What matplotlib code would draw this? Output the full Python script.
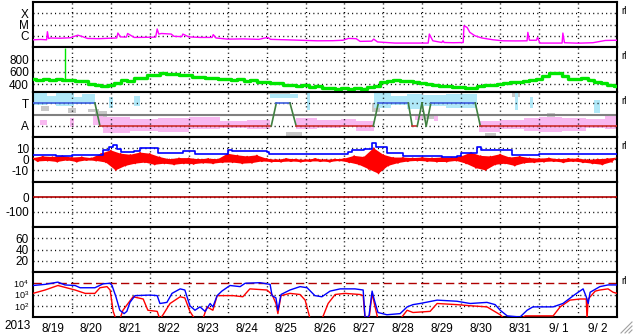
import numpy as np
import matplotlib
matplotlib.use('Agg')
import matplotlib.pyplot as plt
from matplotlib.ticker import NullLocator
from matplotlib.lines import Line2D

plt.rcParams['font.family'] = ['Liberation Sans', 'DejaVu Sans']
plt.rcParams['font.size'] = 8.5
plt.rcParams['mathtext.fontset'] = 'custom'
plt.rcParams['mathtext.rm'] = 'Liberation Sans'
plt.rcParams['lines.scale_dashes'] = False

# ---- data (time in days from 2013-08-19 00:00) ----
day_labels = ['8/19', '8/20', '8/21', '8/22', '8/23', '8/24', '8/25', '8/26',
              '8/27', '8/28', '8/29', '8/30', '8/31', '9/ 1', '9/ 2']

# x-ray flux, log10 W/m2
xray = np.array([
    [0.00, -6.36], [0.20, -6.33], [0.35, -6.36], [0.37, -5.64], [0.40, -6.25],
    [0.45, -6.20], [0.70, -6.22], [0.95, -6.18], [1.15, -5.95], [1.25, -6.05],
    [1.40, -6.24], [1.70, -6.26], [1.98, -6.22], [2.15, -6.20], [2.18, -5.76],
    [2.25, -6.10], [2.40, -6.12], [2.43, -5.80], [2.60, -6.15], [2.90, -6.14],
    [3.15, -6.12], [3.19, -5.40], [3.23, -5.85], [3.30, -5.80], [3.55, -5.85],
    [3.62, -6.05], [3.82, -6.08], [3.85, -5.85], [4.00, -6.10], [4.30, -6.15],
    [4.60, -6.15], [4.63, -5.90], [4.70, -6.20], [5.00, -6.30], [5.40, -6.28],
    [5.80, -6.32], [6.03, -6.15], [6.10, -6.32], [6.50, -6.36], [6.86, -6.40],
    [7.30, -6.45], [7.70, -6.44], [7.96, -6.40], [8.10, -6.24], [8.30, -6.26],
    [8.40, -6.50], [8.70, -6.48], [8.75, -6.30], [8.85, -6.55], [9.30, -6.65],
    [9.80, -6.65], [10.15, -6.65], [10.18, -5.85], [10.27, -6.45], [10.50, -6.60],
    [10.53, -6.45], [10.56, -6.60], [10.80, -6.62], [11.05, -6.60], [11.07, -5.11],
    [11.15, -5.26], [11.22, -5.70], [11.35, -6.00], [11.53, -6.20], [11.82, -6.36],
    [12.07, -6.45], [12.40, -6.46], [12.69, -6.45], [12.71, -5.70], [12.75, -6.40],
    [12.93, -6.40], [12.96, -6.15], [13.02, -6.65], [13.30, -6.65], [13.59, -6.65],
    [13.61, -5.76], [13.65, -6.62], [14.00, -6.66], [14.38, -6.62], [14.70, -6.42],
    [15.00, -6.40]])

# solar wind speed, every 4 hours
speed = [490, 474, 494, 478, 488, 466, 470, 452, 456, 408, 394, 376, 394, 428,
         466, 462, 498, 508, 552, 550, 578, 566, 572, 546, 546, 520, 516, 496,
         502, 482, 494, 472, 482, 462, 466, 442, 446, 418, 416, 392, 398, 378,
         384, 362, 368, 346, 350, 332, 340, 324, 336, 326, 352, 378, 432, 462,
         478, 456, 452, 432, 426, 402, 394, 380, 372, 360, 356, 346, 350, 368,
         392, 398, 412, 420, 432, 438, 452, 464, 482, 544, 586, 582, 534, 492,
         488, 498, 468, 442, 418, 392, 368]
speed_spike = (0.82, 990)

# IMF angle clouds: t0, t1, lo, hi (T=1, A=-1)
phi_blue = np.array([
    [0.00, 0.35, 0.80, 1.90], [0.35, 0.60, 0.90, 1.60], [0.60, 1.05, 0.75, 1.85],
    [1.05, 1.25, 0.95, 1.50], [1.25, 1.60, 0.90, 1.75], [1.95, 2.05, 0.60, 1.50],
    [2.60, 2.75, 0.70, 1.60], [6.10, 6.80, 1.40, 1.78], [7.05, 7.12, 0.40, 1.85],
    [8.75, 9.20, 0.60, 1.85], [9.20, 9.60, 0.80, 1.60], [9.60, 10.00, 0.50, 1.80],
    [10.00, 10.60, 0.70, 1.70], [10.60, 11.40, 0.60, 1.80], [12.38, 12.45, 0.40, 1.85],
    [12.77, 12.84, 0.60, 1.50], [14.40, 14.56, 0.15, 1.25]])
phi_pink = np.array([
    [0.18, 0.35, -0.90, -0.45], [0.95, 1.05, -1.10, -0.30], [1.55, 1.80, -0.90, -0.05],
    [1.80, 2.50, -1.60, -0.20], [2.50, 3.20, -1.40, -0.40], [3.20, 4.00, -1.50, -0.30],
    [4.00, 4.80, -1.30, -0.20], [4.80, 5.50, -1.20, -0.60], [5.50, 6.10, -1.30, -0.50],
    [6.75, 7.30, -1.30, -0.30], [7.30, 7.90, -1.20, -0.50], [7.90, 8.30, -1.10, -0.40],
    [8.30, 8.75, -1.40, -0.60], [9.80, 10.00, -0.50, -0.10], [10.30, 10.40, -0.60, -0.10],
    [11.45, 12.00, -1.50, -0.60], [12.00, 12.60, -1.30, -0.50], [12.60, 13.00, -1.40, -0.30],
    [13.00, 13.60, -1.50, -0.20], [13.60, 14.20, -1.40, -0.30], [14.20, 14.70, -1.20, -0.40],
    [14.70, 15.00, -1.30, -0.10]])
phi_gray = np.array([
    [0.00, 0.35, 1.75, 1.96], [0.20, 0.40, 0.30, 0.70], [0.90, 1.10, 0.10, 0.60],
    [1.40, 1.70, 0.20, 0.50], [1.60, 1.90, -0.60, 0.30], [6.00, 6.60, 1.75, 1.96],
    [6.50, 6.90, -1.96, -1.50], [8.70, 8.90, 0.20, 1.00], [10.00, 10.30, -0.40, 0.00],
    [11.60, 11.90, -1.96, -1.60], [12.30, 12.50, 1.50, 1.90], [13.20, 13.40, -0.30, 0.10]])

# sector polarity (1 toward, -1 away)
sector_t = [0, 1.59, 1.72, 6.12, 6.25, 6.60, 6.76, 8.74, 8.87, 9.64, 9.74, 9.87,
            9.99, 10.10, 10.22, 11.36, 11.49, 15]
sector_v = [1, 1, -1, -1, 1, 1, -1, -1, 1, 1, -1, -1, 1, -1, 1, 1, -1, -1]

# IMF Bt (nT)
bt = np.array([
    [0.00, 3.5], [0.60, 3.2], [1.00, 3.8], [1.72, 4.0], [1.80, 8.0], [1.95, 11.0],
    [2.06, 12.5], [2.15, 9.0], [2.25, 6.5], [2.60, 7.0], [2.75, 10.0], [3.10, 10.0],
    [3.20, 5.5], [3.80, 5.5], [3.85, 7.0], [4.10, 7.0], [4.15, 4.5], [4.95, 4.5],
    [5.00, 8.0], [5.10, 7.0], [6.00, 6.8], [6.05, 4.5], [7.60, 4.5], [7.70, 5.0],
    [8.10, 6.5], [8.20, 8.5], [8.50, 9.5], [8.70, 15.0], [8.80, 11.0], [9.00, 11.0],
    [9.10, 5.5], [9.45, 5.5], [9.50, 3.0], [10.20, 3.0], [10.50, 2.0], [10.90, 2.5],
    [11.00, 5.5], [11.20, 6.0], [11.40, 11.0], [11.50, 8.0], [12.20, 8.0], [12.30, 3.6],
    [12.90, 3.6], [13.00, 4.5], [14.00, 4.5], [15.00, 4.8]])

# IMF Bz (nT): upper values every 6 hours, lower values in between
bz_hi = [1, 2.5, 2, 3, 1.5, 2, 1, 5, 8, 5, 4, 6, 5, 2, 0, 1,
         1, 0, 0.5, 0, 5, 3.5, 2.5, 3.5, 0.5, -0.5, 0.5, 0, -0.5, 0.5, -0.5, 0,
         0.5, 3, 2, 10, 4, 1.5, 1.5, 1, 1.5, 1, 1.5, 1.5, 2.5, 6, 3, 2.5,
         4.5, 1.5, 2.5, 1, 0.5, 1, 0, 0.5, 0.5, -0.5, 0, 0.5, 1.5]
bz_lo = [-2, -1.5, -2.5, -1, -2.5, -1, -1.5, -3, -10, -6, -4, -3, -5, -4, -5, -4,
         -4.5, -3.5, -4, -3, -3, -4, -3.5, -2, -2.5, -2.5, -2, -2.5, -2, -2, -2.5, -1.5,
         -3, -5, -9, -13, -6, -3.5, -2, -1.5, -2, -2.5, -2.5, -1.5, -4, -8, -10, -5,
         -4, -6, -3.5, -3, -2.5, -2, -3, -2, -3, -4, -5, -2.5]

# electron flux, log10
e_blue = np.array([
    [0.00, 3.8], [0.31, 3.9], [0.64, 4.1], [0.82, 3.85], [1.08, 3.8], [1.21, 3.6],
    [1.59, 3.6], [1.80, 3.95], [1.98, 4.0], [2.03, 3.8], [2.13, 2.8], [2.23, 1.6],
    [2.34, 1.3], [2.41, 1.5], [2.49, 2.3], [2.62, 2.9], [3.01, 2.95], [3.19, 2.9],
    [3.26, 2.2], [3.44, 2.3], [3.57, 3.1], [3.78, 3.5], [3.90, 3.4], [4.03, 2.0],
    [4.16, 1.6], [4.29, 1.9], [4.42, 1.5], [4.55, 2.2], [4.62, 1.9], [4.73, 2.9],
    [4.85, 3.3], [5.06, 3.8], [5.32, 3.7], [5.45, 4.0], [5.83, 4.05], [6.09, 3.9],
    [6.14, 2.9], [6.24, 2.7], [6.29, 1.6], [6.37, 3.0], [6.60, 3.4], [6.86, 3.7],
    [7.04, 3.6], [7.24, 2.9], [7.42, 2.8], [7.63, 3.3], [7.89, 3.5], [8.27, 3.5],
    [8.48, 3.4], [8.53, 0.9], [8.63, 1.1], [8.71, 3.3], [8.76, 2.6], [8.86, 1.4],
    [9.09, 1.2], [9.43, 1.3], [9.61, 1.9], [9.76, 2.1], [9.94, 2.2], [10.38, 2.5],
    [10.89, 2.4], [11.23, 2.2], [11.66, 2.3], [11.87, 2.1], [12.00, 1.6], [12.18, 1.1],
    [12.51, 1.0], [12.69, 1.6], [12.84, 1.9], [13.36, 1.9], [13.61, 2.2], [13.92, 3.0],
    [14.13, 3.5], [14.21, 2.8], [14.26, 2.2], [14.31, 3.2], [14.56, 3.7], [14.77, 3.85],
    [15.00, 3.85]])
e_red = np.array([
    [0.00, 3.1], [0.31, 3.4], [0.64, 3.8], [1.08, 3.4], [1.34, 3.1], [1.59, 3.1],
    [1.72, 3.6], [1.90, 3.7], [1.98, 3.4], [2.06, 1.5], [2.13, 0.8], [2.23, 0.8],
    [2.31, 1.6], [2.57, 2.8], [2.83, 2.6], [2.95, 1.6], [3.19, 1.5], [3.26, 0.8],
    [3.34, 1.2], [3.52, 2.2], [3.78, 2.8], [3.90, 2.7], [4.03, 1.5], [4.16, 0.8],
    [4.37, 0.9], [4.47, 1.9], [4.62, 1.6], [4.73, 2.9], [5.14, 2.9], [5.39, 2.8],
    [5.57, 3.5], [6.01, 3.4], [6.14, 3.0], [6.24, 2.2], [6.29, 1.3], [6.37, 2.9],
    [6.60, 3.1], [6.86, 3.0], [6.99, 2.5], [7.12, 0.8], [7.42, 0.8], [7.58, 2.2],
    [7.76, 3.0], [8.01, 3.1], [8.40, 3.0], [8.48, 2.9], [8.53, 0.8], [8.63, 0.8],
    [8.71, 3.1], [8.78, 2.0], [8.86, 0.8], [9.43, 0.8], [9.61, 1.6], [9.76, 1.4],
    [10.20, 1.5], [10.38, 2.2], [10.89, 2.1], [11.23, 2.0], [11.66, 1.9], [12.00, 1.2],
    [12.12, 0.8], [12.51, 0.8], [12.64, 1.1], [13.36, 1.1], [13.54, 1.9], [13.79, 2.5],
    [14.05, 2.6], [14.21, 2.6], [14.23, 0.8], [14.26, 2.6], [14.44, 3.3], [14.56, 3.4],
    [14.77, 3.5], [14.90, 3.2], [15.00, 3.1]])

# ---- figure ----
W, H = 633, 334
DOT = (0, (0.75, 2.35))
fig = plt.figure(figsize=(W / 100, H / 100), dpi=100)


def panel(i, levels, ylim, labels, log=False, rl=True, size=8.5):
    top = 2 + 45 * i
    ax = fig.add_axes([33 / W, 1 - (top + 45) / H, 584 / W, 45 / H])
    if log:
        ax.set_yscale('log')
    ax.set_xlim(0, 15)
    ax.set_ylim(*ylim)
    for s in ax.spines.values():
        s.set_linewidth(1.5)
    ax.set_xticks([])
    ax.set_yticks(levels, labels=labels)
    ax.yaxis.set_minor_locator(NullLocator())
    ax.tick_params(length=0, pad=3, labelsize=size)
    for d in range(1, 15):
        ax.axvline(d, color='k', lw=1, ls=DOT, zorder=1.5)
    for v in levels:
        if not (log and v == 1e4):
            ax.axhline(v, color='k', lw=1, ls=DOT, zorder=1.5)
    if rl:
        ax.text(1.008, 0.8, 'rl', transform=ax.transAxes, fontsize=7,
                ha='left', va='center')
    return ax


# x-ray
ax1 = panel(0, [1e-6, 1e-5, 1e-4], (1e-7, 1e-3), ['C', 'M', 'X'], log=True)
ax1.plot(xray[:, 0], 10 ** xray[:, 1], color='#ff00ff', lw=1, zorder=3)

# solar wind speed
ax2 = panel(1, [400, 600, 800], (280, 1000), ['400', '600', '800'])
ax2.plot(np.arange(len(speed)) / 6, speed, color='#00e600', lw=2.4,
         drawstyle='steps-mid', zorder=3)
ax2.vlines(speed_spike[0], 470, speed_spike[1], color='#00e600', lw=1, zorder=3)

# sector / IMF angle
ax3 = panel(2, [-1, 1], (-1.96, 1.96), ['A', 'T'])
for blocks, c in [(phi_gray, '#c8c8c8'), (phi_pink, '#f8b8f0'), (phi_blue, '#b0e8f8')]:
    ax3.bar(blocks[:, 0], blocks[:, 3] - blocks[:, 2], width=blocks[:, 1] - blocks[:, 0],
            bottom=blocks[:, 2], align='edge', color=c, lw=0, zorder=1)
ax3.axhline(0, color='#808080', lw=1.5, zorder=2)
for k in range(len(sector_t) - 1):
    a, b = sector_v[k], sector_v[k + 1]
    c = '#4060e0' if a == b == 1 else ('#d03030' if a == b == -1 else '#408040')
    ax3.plot(sector_t[k:k + 2], sector_v[k:k + 2], color=c, lw=1.2, zorder=3)

# IMF: Bz as a filled band with its jagged outline, Bt on top
ax4 = panel(3, [-10, 0, 10], (-20.5, 20), ['-10', '0', '10'])
t_hi = np.arange(len(bz_hi)) / 4
t_lo = np.arange(len(bz_lo)) / 4 + 1 / 8
ax4.fill(np.r_[t_hi, t_lo[::-1]], np.r_[bz_hi, bz_lo[::-1]], color='#ff0000', lw=0, zorder=3)
zig_t = np.ravel(np.column_stack([t_hi[:-1], t_lo]))
zig_v = np.ravel(np.column_stack([bz_hi[:-1], bz_lo]))
ax4.plot(zig_t, zig_v, color='#ff0000', lw=1, zorder=3)
ax4.plot(bt[:, 0], bt[:, 1], color='#0000ff', lw=1.2, drawstyle='steps-post', zorder=4)

# Dst
ax5 = panel(4, [-100, 0], (-200, 100), ['-100', '0'], rl=False)
ax5.axhline(0, color='#b00000', lw=1.2, zorder=3)

# empty index panel
ax6 = panel(5, [20, 40, 60], (0, 80), ['20', '40', '60'], rl=False)

# electrons
ax7 = panel(6, [1e2, 1e3, 1e4], (10, 1e5), ['$10^2$', '$10^3$', '$10^4$'],
            log=True, size=6.5)
ax7.axhline(1e4, color='#b00000', lw=1, ls=(0, (6, 3)), zorder=2)
ax7.plot(e_red[:, 0], 10 ** e_red[:, 1], color='#ff0000', lw=1, zorder=3)
ax7.plot(e_blue[:, 0], 10 ** e_blue[:, 1], color='#0000ff', lw=1, zorder=4)
ax7.set_xticks(np.arange(15) + 0.5, labels=day_labels)
ax7.tick_params(axis='x', length=0, pad=4, labelsize=8.5)

fig.text(18 / W, 1 - 326 / H, '2013', ha='center', va='center', fontsize=8.5)

# resize grip in the corner
for k in range(3):
    off = 4 * k
    fig.add_artist(Line2D([(621 + off) / W, 632 / W], [1 - 333 / H, 1 - (322 + off) / H],
                          color='#a0a0a0', lw=0.8))

fig.savefig('out.png', dpi=100, facecolor='white')
